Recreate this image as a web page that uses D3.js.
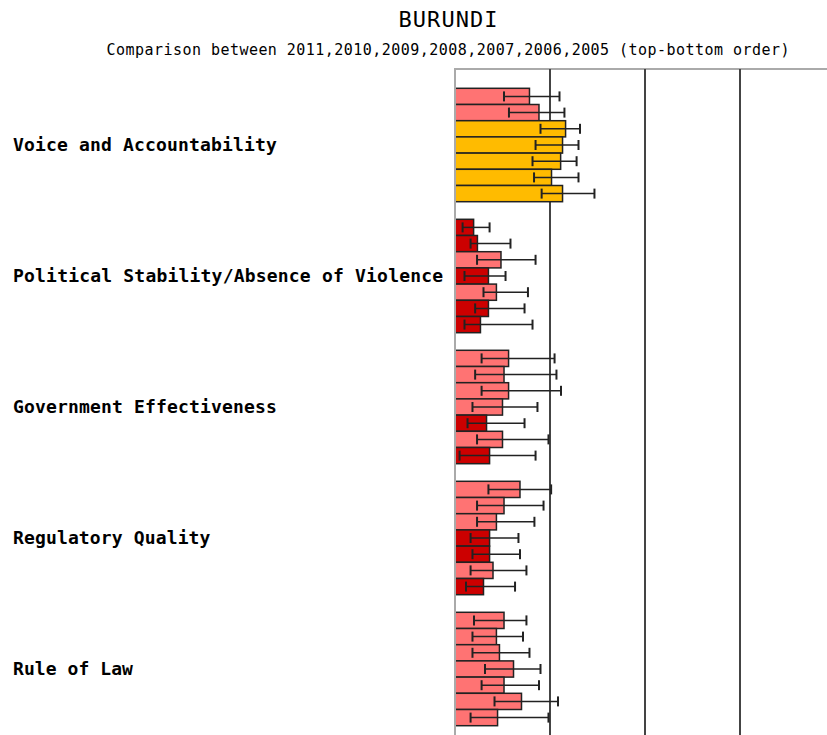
<!DOCTYPE html>
<html>
<head>
<meta charset="utf-8">
<script src="https://cdn.jsdelivr.net/npm/d3@7"></script>
<style>
  body { margin: 0; background: #fff; }
  svg { display: block; }
</style>
</head>
<body>
<div id="chart"></div>
<script>
// Data
const categories = [
    "Voice and Accountability",
    "Political Stability/Absence of Violence",
    "Government Effectiveness",
    "Regulatory Quality",
    "Rule of Law"
];
const years = [2011, 2010, 2009, 2008, 2007, 2006, 2005];

// percentile rank per category, years top-bottom
const values = [
    [19.6, 22.1, 29.1, 28.3, 27.8, 25.4, 28.3],
    [4.9, 5.9, 12.1, 8.8, 10.9, 8.8, 6.7],
    [14.1, 12.9, 14.1, 12.5, 8.3, 12.5, 9.1],
    [17.1, 12.9, 10.9, 9.1, 9.1, 10.0, 7.5],
    [12.9, 10.9, 11.7, 15.4, 12.9, 17.5, 11.2]
];
const lower = [
    [12.9, 14.2, 22.5, 21.2, 20.4, 20.8, 22.8],
    [2.0, 4.1, 5.8, 2.5, 7.5, 5.3, 2.5],
    [7.0, 5.3, 7.0, 4.6, 3.3, 5.8, 1.2],
    [8.8, 5.8, 5.8, 4.1, 4.6, 4.1, 2.9],
    [5.0, 4.6, 4.6, 7.9, 7.0, 10.4, 4.1]
];
const upper = [
    [27.5, 28.8, 32.9, 32.5, 32.0, 32.5, 36.7],
    [9.1, 14.6, 21.2, 13.3, 19.2, 18.3, 20.4],
    [26.2, 26.7, 27.9, 21.7, 18.3, 24.6, 21.2],
    [25.3, 23.3, 20.9, 16.7, 17.1, 18.8, 15.8],
    [18.8, 17.9, 19.6, 22.5, 22.1, 27.1, 24.6]
];
const gridTicks = [25, 50, 75];

const width = 827, height = 735;

const svg = d3.select("#chart").append("svg")
    .attr("width", width)
    .attr("height", height);

const font = "'DejaVu Sans Mono', 'Liberation Mono', monospace";

// Titles
svg.append("text")
    .attr("x", 448).attr("y", 27)
    .attr("text-anchor", "middle")
    .attr("font-family", font)
    .attr("font-size", 22)
    .attr("textLength", 99)
    .attr("lengthAdjust", "spacing")
    .attr("fill", "#000")
    .text("BURUNDI");

svg.append("text")
    .attr("x", 448).attr("y", 55)
    .attr("text-anchor", "middle")
    .attr("font-family", font)
    .attr("font-size", 15)
    .attr("textLength", 683)
    .attr("lengthAdjust", "spacing")
    .attr("fill", "#000")
    .text("Comparison between " + years.join(",") + " (top-bottom order)");

// Scales
const plotTop = 69;
const x = d3.scaleLinear().domain([0, 100]).range([455, 835]);
const y0 = d3.scaleBand().domain(categories).range([79.5, 79.5 + 5 * 131]);
const y1 = d3.scaleBand().domain(years).range([8.8, 122.2]);

function barColor(v) {
    if (v < 10) return "#cc0000";
    if (v < 25) return "#ff7373";
    return "#ffbb00";
}

// Frame
svg.append("line")
    .attr("x1", x(0)).attr("x2", width)
    .attr("y1", plotTop).attr("y2", plotTop)
    .attr("stroke", "#aaa").attr("stroke-width", 2);

svg.selectAll(".grid")
    .data(gridTicks)
    .enter().append("line")
    .attr("class", "grid")
    .attr("x1", d => x(d)).attr("x2", d => x(d))
    .attr("y1", plotTop).attr("y2", height)
    .attr("stroke", "#444").attr("stroke-width", 2);

// Labels
svg.selectAll(".label")
    .data(categories)
    .enter().append("text")
    .attr("class", "label")
    .attr("x", 13)
    .attr("y", d => y0(d) + y0.bandwidth() / 2 + 6)
    .attr("font-family", font)
    .attr("font-size", 18)
    .attr("font-weight", "bold")
    .attr("textLength", d => d.length * 11.08 - 2)
    .attr("lengthAdjust", "spacing")
    .attr("fill", "#000")
    .text(d => d);

// Bars
const groups = svg.selectAll(".group")
    .data(categories)
    .enter().append("g")
    .attr("class", "group")
    .attr("transform", d => `translate(0,${y0(d)})`);

groups.each(function(cat, ci) {
    const g = d3.select(this);
    const rows = years.map((yr, i) => ({
        year: yr, v: values[ci][i], lo: lower[ci][i], hi: upper[ci][i]
    }));

    g.selectAll("rect")
        .data(rows)
        .enter().append("rect")
        .attr("x", x(0))
        .attr("y", d => y1(d.year))
        .attr("width", d => x(d.v) - x(0))
        .attr("height", y1.bandwidth())
        .attr("fill", d => barColor(d.v))
        .attr("stroke", "#222")
        .attr("stroke-width", 1.5);

    const err = g.selectAll(".err")
        .data(rows)
        .enter().append("g")
        .attr("class", "err")
        .attr("transform", d => `translate(0,${y1(d.year) + y1.bandwidth() / 2})`);

    err.append("line")
        .attr("x1", d => x(d.lo)).attr("x2", d => x(d.hi))
        .attr("y1", 0).attr("y2", 0)
        .attr("stroke", "#222").attr("stroke-width", 1.5);
    err.append("line")
        .attr("x1", d => x(d.lo)).attr("x2", d => x(d.lo))
        .attr("y1", -5).attr("y2", 5)
        .attr("stroke", "#222").attr("stroke-width", 2);
    err.append("line")
        .attr("x1", d => x(d.hi)).attr("x2", d => x(d.hi))
        .attr("y1", -5).attr("y2", 5)
        .attr("stroke", "#222").attr("stroke-width", 2);
});

// Left axis line on top
svg.append("line")
    .attr("x1", x(0)).attr("x2", x(0))
    .attr("y1", plotTop - 1).attr("y2", height)
    .attr("stroke", "#aaa").attr("stroke-width", 2);
</script>
</body>
</html>
